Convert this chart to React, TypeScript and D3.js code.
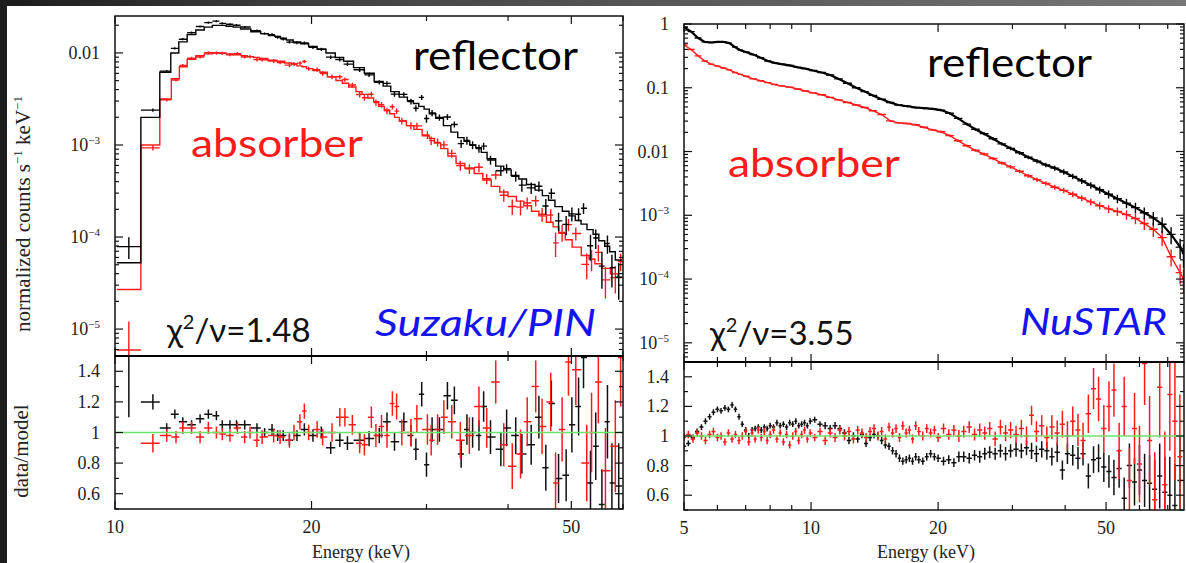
import React from "react";
import * as d3 from "d3";

// ---------------- Suzaku / PIN (left) ----------------
const pinBlackE = [
  10.5, 11.43, 12.0, 12.35, 12.7, 13.1, 13.5, 13.9, 14.3, 14.6,
  15.0, 15.35, 15.8, 16.5, 16.95, 17.4, 17.75, 18.1, 18.5, 19.0,
  19.5, 20.1, 20.7, 21.4, 22.1, 22.7, 23.7, 24.5, 25.4, 26.1,
  26.8, 27.7, 28.4, 28.9, 29.5, 30.0, 30.6, 31.4, 32.3, 33.1,
  33.9, 34.6, 35.3, 36.1, 36.7, 37.6, 39.0, 39.8, 41.1, 42.0,
  43.4, 44.6, 45.7, 46.6, 47.8, 49.1, 50.1, 51.3, 52.2, 53.5,
  54.5, 55.7, 56.8, 57.7, 59.1,
];
const pinBlackModelLog = [
  -4.28, -2.70, -2.21, -2.00, -1.88, -1.80, -1.75, -1.72, -1.70, -1.70,
  -1.71, -1.72, -1.74, -1.77, -1.79, -1.81, -1.82, -1.84, -1.86, -1.88,
  -1.90, -1.93, -1.96, -2.00, -2.05, -2.09, -2.16, -2.22, -2.31, -2.36,
  -2.42, -2.48, -2.52, -2.55, -2.58, -2.61, -2.66, -2.71, -2.79, -2.86,
  -2.92, -2.96, -3.00, -3.03, -3.08, -3.15, -3.23, -3.27, -3.33, -3.37,
  -3.43, -3.49, -3.55, -3.60, -3.67, -3.72, -3.77, -3.82, -3.86, -3.92,
  -3.97, -4.04, -4.10, -4.16, -4.25,
];
const pinBlackRatio = [
  1.5, 1.2, 1.03, 1.12, 1.07, 1.05, 1.09, 1.12, 1.11, 1.05,
  1.05, 1.05, 1.05, 1.03, 1.0, 1.02, 0.98, 0.98, 0.95, 0.98,
  1.02, 0.98, 1.0, 0.9, 0.95, 0.93, 0.95, 0.96, 0.98, 1.07,
  0.94, 1.07, 0.98, 0.89, 1.25, 0.79, 1.02, 1.02, 1.24, 1.21,
  0.86, 1.02, 1.0, 0.98, 1.17, 0.97, 0.89, 1.03, 0.98, 0.86,
  0.92, 1.1, 0.77, 1.19, 0.7, 0.72, 1.05, 1.17, 1.49, 0.67,
  0.91, 0.53, 1.07, 0.67, 0.65,
];
const pinBlackErr = [
  0.4, 0.05, 0.03, 0.03, 0.03, 0.03, 0.03, 0.03, 0.03, 0.03,
  0.03, 0.03, 0.03, 0.03, 0.03, 0.035, 0.035, 0.035, 0.035, 0.035,
  0.04, 0.04, 0.04, 0.04, 0.045, 0.045, 0.05, 0.05, 0.05, 0.06,
  0.06, 0.06, 0.07, 0.07, 0.08, 0.08, 0.08, 0.08, 0.09, 0.09,
  0.09, 0.1, 0.1, 0.1, 0.1, 0.11, 0.11, 0.12, 0.12, 0.13,
  0.13, 0.14, 0.15, 0.15, 0.16, 0.17, 0.18, 0.19, 0.2, 0.21,
  0.22, 0.23, 0.24, 0.26, 0.28,
];
const pinRedE = [
  10.5, 11.43, 12.0, 12.4, 12.7, 13.1, 13.5, 13.9, 14.3, 14.6,
  15.0, 15.4, 15.8, 16.1, 16.5, 16.8, 17.5, 17.9, 18.5, 18.8,
  19.2, 19.5, 19.8, 20.4, 20.8, 21.5, 22.1, 22.5, 23.1, 23.7,
  24.1, 24.7, 25.1, 25.6, 26.1, 26.6, 27.0, 27.5, 28.4, 29.0,
  30.1, 30.5, 31.2, 31.9, 32.8, 33.8, 34.9, 36.1, 37.1, 38.3,
  39.4, 40.6, 41.8, 42.8, 44.1, 45.1, 46.5, 47.3, 48.4, 49.5,
  50.8, 52.8, 53.7, 55.0, 56.4, 58.4, 59.5,
];
const pinRedModelLog = [
  -4.57, -3.00, -2.50, -2.28, -2.15, -2.07, -2.03, -2.01, -2.00, -2.00,
  -2.01, -2.02, -2.03, -2.04, -2.05, -2.06, -2.08, -2.09, -2.11, -2.12,
  -2.14, -2.15, -2.17, -2.19, -2.21, -2.26, -2.30, -2.33, -2.37, -2.42,
  -2.45, -2.49, -2.53, -2.58, -2.62, -2.66, -2.70, -2.74, -2.79, -2.83,
  -2.90, -2.93, -2.98, -3.04, -3.12, -3.20, -3.25, -3.31, -3.38, -3.45,
  -3.51, -3.56, -3.61, -3.66, -3.72, -3.77, -3.84, -3.89, -3.96, -4.03,
  -4.11, -4.20, -4.24, -4.29, -4.34, -4.40, -4.44,
];
const pinRedRatio = [
  0.22, 0.93, 0.98, 0.97, 1.03, 1.03, 0.97, 1.03, 1.0, 0.99,
  0.98, 1.03, 0.97, 1.0, 0.95, 0.97, 0.98, 0.97, 0.95, 1.0,
  1.07, 1.14, 1.0, 1.02, 0.97, 1.0, 1.1, 1.1, 1.05, 0.93,
  0.92, 1.1, 0.98, 1.04, 0.98, 1.19, 1.17, 1.0, 1.0, 1.09,
  1.02, 0.95, 1.02, 1.1, 1.07, 0.95, 0.98, 1.17, 1.03, 1.33,
  0.92, 0.78, 0.86, 1.07, 1.3, 1.04, 1.2, 0.67, 1.02, 1.46,
  1.41, 0.8, 1.0, 1.33, 0.75, 0.91, 1.49,
];
const pinRedErr = [
  0.23, 0.06, 0.04, 0.04, 0.04, 0.04, 0.04, 0.04, 0.04, 0.04,
  0.04, 0.04, 0.04, 0.04, 0.045, 0.045, 0.045, 0.045, 0.05, 0.05,
  0.05, 0.05, 0.05, 0.055, 0.055, 0.06, 0.06, 0.06, 0.065, 0.065,
  0.07, 0.07, 0.075, 0.075, 0.08, 0.08, 0.085, 0.085, 0.09, 0.09,
  0.1, 0.1, 0.1, 0.11, 0.11, 0.12, 0.12, 0.13, 0.13, 0.14,
  0.14, 0.15, 0.16, 0.16, 0.17, 0.18, 0.19, 0.2, 0.21, 0.22,
  0.23, 0.25, 0.26, 0.27, 0.28, 0.3, 0.32,
];

// ---------------- NuSTAR (right) ----------------
const nuE = [
  5.0, 5.2, 5.4, 5.6, 5.8, 6.0, 6.2, 6.4, 6.6, 6.8,
  7.0, 7.3, 7.6, 7.9, 8.2, 8.5, 8.9, 9.3, 9.7, 10.1,
  10.6, 11.1, 11.6, 12.2, 12.8, 13.4, 14.0, 14.7, 15.4, 16.1,
  16.9, 17.7, 18.5, 19.4, 20.3, 21.3, 22.3, 23.4, 24.5, 25.7,
  27.0, 28.3, 29.7, 31.2, 32.7, 34.3, 36.0, 37.8, 39.7, 41.7,
  43.8, 46.0, 48.3, 50.7, 53.2, 55.9, 58.7, 61.6, 64.7, 67.9,
  71.3, 74.9, 76.3,
];
const nuBlackLog = [
  -0.05, -0.12, -0.22, -0.28, -0.29, -0.28, -0.28, -0.3, -0.36, -0.41,
  -0.44, -0.48, -0.53, -0.58, -0.61, -0.63, -0.65, -0.68, -0.7, -0.73,
  -0.76, -0.8, -0.86, -0.93, -1.0, -1.06, -1.12, -1.18, -1.23, -1.27,
  -1.29, -1.31, -1.32, -1.33, -1.35, -1.4, -1.48, -1.57, -1.65, -1.72,
  -1.8, -1.88, -1.95, -2.02, -2.09, -2.15, -2.21, -2.26, -2.32, -2.39,
  -2.46, -2.53, -2.6, -2.67, -2.74, -2.81, -2.88, -2.96, -3.04, -3.14,
  -3.3, -3.5, -3.6,
];
const nuRedLog = [
  -0.33, -0.4, -0.5, -0.58, -0.63, -0.66, -0.69, -0.72, -0.76, -0.79,
  -0.82, -0.86, -0.89, -0.92, -0.95, -0.97, -0.99, -1.02, -1.05, -1.08,
  -1.11, -1.15, -1.19, -1.23, -1.27, -1.31, -1.36, -1.42, -1.52, -1.55,
  -1.56, -1.58, -1.62, -1.66, -1.69, -1.75, -1.83, -1.91, -1.98, -2.04,
  -2.11, -2.18, -2.24, -2.31, -2.38, -2.44, -2.5, -2.56, -2.61, -2.67,
  -2.73, -2.79, -2.85, -2.9, -2.94, -2.99, -3.05, -3.13, -3.22, -3.35,
  -3.65, -3.9, -4.0,
];
const nuCountsErr = [
  0.02, 0.02, 0.02, 0.02, 0.02, 0.02, 0.02, 0.02, 0.02, 0.02,
  0.02, 0.02, 0.02, 0.02, 0.02, 0.02, 0.02, 0.02, 0.025, 0.025,
  0.025, 0.025, 0.025, 0.03, 0.03, 0.03, 0.03, 0.03, 0.035, 0.035,
  0.035, 0.04, 0.04, 0.04, 0.045, 0.045, 0.05, 0.05, 0.05, 0.055,
  0.06, 0.06, 0.065, 0.07, 0.07, 0.08, 0.08, 0.09, 0.1, 0.1,
  0.11, 0.12, 0.13, 0.14, 0.15, 0.17, 0.19, 0.21, 0.24, 0.27,
  0.3, 0.35, 0.4,
];
const nuRatioE = [
  5.0, 5.12, 5.25, 5.37, 5.5, 5.62, 5.75, 5.87, 6.0, 6.12,
  6.25, 6.37, 6.5, 6.62, 6.75, 6.87, 7.0, 7.12, 7.25, 7.37,
  7.5, 7.62, 7.75, 7.87, 8.0, 8.15, 8.3, 8.45, 8.6, 8.75,
  8.9, 9.05, 9.2, 9.35, 9.5, 9.65, 9.8, 9.95, 10.2, 10.5,
  10.8, 11.1, 11.4, 11.7, 12.0, 12.3, 12.6, 12.9, 13.2, 13.5,
  13.8, 14.1, 14.4, 14.7, 15.0, 15.3, 15.6, 15.9, 16.2, 16.5,
  16.8, 17.1, 17.4, 17.7, 18.0, 18.4, 18.8, 19.2, 19.6, 20.0,
  20.6, 21.2, 21.8, 22.4, 23.0, 23.7, 24.4, 25.1, 25.8, 26.5,
  27.3, 28.1, 28.9, 29.7, 30.6, 31.5, 32.4, 33.3, 34.2, 35.2,
  36.2, 37.2, 38.3, 39.4, 40.5, 41.7, 42.9, 44.1, 45.4, 46.7,
  48.0, 49.4, 50.8, 52.2, 53.7, 55.2, 56.8, 58.4, 60.0, 61.7,
  63.4, 65.2, 67.0, 68.9, 70.8, 72.8, 74.8,
];
const nuBlackRatio = [
  0.93, 0.95, 0.99, 1.03, 1.06, 1.1, 1.13, 1.16, 1.18, 1.17,
  1.19, 1.18, 1.21, 1.18, 1.13, 1.08, 1.04, 1.0, 1.04, 1.05,
  1.06, 1.04, 1.06, 1.05, 1.07, 1.06, 1.09, 1.07, 1.08, 1.06,
  1.09, 1.08, 1.1, 1.07, 1.08, 1.09, 1.07, 1.1, 1.11, 1.08,
  1.07, 1.05, 1.07, 1.05, 1.02, 0.97, 1.0, 0.98, 1.01, 0.95,
  0.99, 1.01, 1.0, 0.97, 0.94, 0.93, 0.9, 0.88, 0.85, 0.83,
  0.84, 0.85, 0.83, 0.86, 0.84, 0.83, 0.86, 0.88, 0.86, 0.85,
  0.83, 0.84, 0.82, 0.86, 0.86, 0.85, 0.87, 0.86, 0.88, 0.89,
  0.88, 0.9, 0.88, 0.9, 0.91, 0.9, 0.92, 0.9, 0.88, 0.91,
  0.9, 0.86, 0.89, 0.77, 0.88, 0.87, 0.85, 0.88, 0.73, 0.84,
  0.85, 0.79, 0.76, 0.72, 0.78, 0.58, 0.8, 0.69, 0.77, 0.7,
  0.68, 0.64, 0.73, 0.62, 0.6, 0.53, 0.7,
];
const nuRedRatio = [
  0.99, 1.01, 0.98, 1.02, 1.0, 0.97, 1.01, 1.03, 0.99, 1.0,
  0.96, 1.02, 0.98, 1.01, 0.97, 1.0, 1.03, 0.96, 1.02, 0.98,
  1.04, 0.99, 1.03, 0.97, 1.01, 1.04, 0.98, 1.02, 0.96, 1.01,
  0.94, 1.0, 1.03, 0.97, 1.01, 1.04, 0.98, 1.02, 0.99, 1.03,
  0.97, 1.02, 0.99, 1.04, 1.0, 1.03, 0.98, 1.04, 1.02, 0.99,
  1.03, 1.05, 1.0, 1.03, 0.98, 1.06, 1.02, 1.05, 0.99, 1.07,
  1.02, 1.04, 0.98, 1.07, 1.03, 1.0, 1.05, 1.02, 1.04, 0.99,
  1.05, 1.01, 1.04, 1.0, 1.03, 1.06, 1.01, 1.04, 1.02, 1.05,
  0.98, 1.06, 1.02, 1.04, 1.01, 1.05, 1.0, 1.14, 1.03, 1.07,
  0.99, 1.06, 1.02, 1.08, 1.0, 1.1, 1.04, 0.97, 1.15, 1.32,
  1.25, 1.05, 1.2, 1.31, 0.9, 1.2, 0.7, 1.05, 0.81, 1.49,
  0.97, 0.57, 1.33, 0.67, 1.28, 1.1, 0.86,
];
const nuBlackErr = [
  0.02, 0.02, 0.02, 0.02, 0.02, 0.02, 0.02, 0.02, 0.02, 0.02,
  0.02, 0.02, 0.02, 0.02, 0.02, 0.02, 0.02, 0.02, 0.02, 0.02,
  0.02, 0.02, 0.02, 0.02, 0.02, 0.02, 0.02, 0.02, 0.02, 0.02,
  0.02, 0.02, 0.02, 0.02, 0.02, 0.02, 0.02, 0.02, 0.02, 0.02,
  0.025, 0.025, 0.025, 0.025, 0.025, 0.025, 0.025, 0.025, 0.025, 0.025,
  0.025, 0.025, 0.025, 0.025, 0.025, 0.025, 0.025, 0.025, 0.025, 0.025,
  0.025, 0.025, 0.025, 0.025, 0.025, 0.025, 0.025, 0.025, 0.025, 0.025,
  0.03, 0.03, 0.03, 0.035, 0.035, 0.035, 0.035, 0.04, 0.04, 0.04,
  0.04, 0.045, 0.045, 0.045, 0.05, 0.05, 0.05, 0.055, 0.055, 0.055,
  0.06, 0.06, 0.065, 0.065, 0.07, 0.07, 0.075, 0.08, 0.085, 0.09,
  0.095, 0.1, 0.11, 0.12, 0.13, 0.14, 0.15, 0.16, 0.17, 0.18,
  0.19, 0.2, 0.22, 0.24, 0.26, 0.28, 0.3,
];
const nuRedErr = [
  0.025, 0.025, 0.025, 0.025, 0.025, 0.025, 0.025, 0.025, 0.025, 0.025,
  0.025, 0.025, 0.025, 0.025, 0.025, 0.025, 0.025, 0.025, 0.025, 0.025,
  0.025, 0.025, 0.025, 0.025, 0.025, 0.025, 0.025, 0.025, 0.025, 0.025,
  0.025, 0.025, 0.025, 0.025, 0.025, 0.025, 0.025, 0.025, 0.025, 0.025,
  0.03, 0.03, 0.03, 0.03, 0.03, 0.03, 0.03, 0.03, 0.03, 0.03,
  0.03, 0.03, 0.03, 0.03, 0.03, 0.03, 0.03, 0.03, 0.03, 0.03,
  0.03, 0.03, 0.03, 0.03, 0.03, 0.03, 0.03, 0.03, 0.03, 0.03,
  0.035, 0.035, 0.035, 0.04, 0.04, 0.04, 0.04, 0.045, 0.045, 0.045,
  0.05, 0.05, 0.055, 0.055, 0.06, 0.06, 0.065, 0.065, 0.07, 0.07,
  0.075, 0.08, 0.085, 0.09, 0.1, 0.1, 0.11, 0.12, 0.13, 0.14,
  0.15, 0.16, 0.17, 0.18, 0.19, 0.2, 0.22, 0.24, 0.26, 0.28,
  0.3, 0.32, 0.34, 0.36, 0.38, 0.4, 0.42,
];

// ---------------- ticks ----------------
const pinXMajor = [10, 20, 50];
const pinXMinor = [30, 40, 60];
const nuXMajor = [5, 10, 20, 50];
const nuXMinor = [6, 7, 8, 9, 30, 40, 60, 70];
const ratioMajor = [0.6, 0.8, 1, 1.2, 1.4];
const ratioMinor = [0.5, 0.7, 0.9, 1.1, 1.3, 1.5];
const pinDecades = [-5, -4, -3, -2];
const nuDecades = [-5, -4, -3, -2, -1, 0];

const W = 1186;
const H = 563;
const SERIF = "'Liberation Serif', 'DejaVu Serif', serif";
const SANS = "Lato, 'Open Sans', 'Noto Sans', sans-serif";
const RED = "#ff1a1a";
const BLUE = "#1414f0";
const GREEN = "#6be36b";
const TICK_FS = 18;

type Box = { x0: number; x1: number; yTop: number; yDiv: number; yBot: number };
type Sc = (v: number) => number;

function binEdges(c: number[]): [number, number][] {
  const n = c.length;
  const m = c.slice(0, -1).map((v, i) => Math.sqrt(v * c[i + 1]));
  return c.map((v, i) => [
    i > 0 ? m[i - 1] : (v * v) / m[0],
    i < n - 1 ? m[i] : (v * v) / m[n - 2],
  ]);
}

function stepPath(E: number[], vals: number[], x: Sc, y: Sc) {
  const ed = binEdges(E);
  let d = "";
  ed.forEach(([lo, hi], i) => {
    const yy = y(vals[i]);
    d += (i === 0 ? `M${x(lo)},${yy}` : `V${yy}`) + `H${x(hi)}`;
  });
  return d;
}

function crossPath(E: number[], val: number[], lo: number[], hi: number[], x: Sc, y: Sc) {
  const ed = binEdges(E);
  return E.map((e, i) => {
    const xc = x(e);
    const yc = y(val[i]);
    const yl = Math.min(y(Math.max(lo[i], 1e-9)), 3000);
    const yh = y(hi[i]);
    return `M${x(ed[i][0])},${yc}H${x(ed[i][1])}M${xc},${yl}V${yh}`;
  }).join("");
}

function logLabel(d: number, x: number, y: number, key: string) {
  if (d >= -2) {
    const txt = d === 0 ? "1" : d === -1 ? "0.1" : "0.01";
    return (
      <text key={key} x={x} y={y} textAnchor="end" fontSize={TICK_FS} fontFamily={SERIF} fill="#222">
        {txt}
      </text>
    );
  }
  return (
    <text key={key} x={x} y={y} textAnchor="end" fontSize={TICK_FS} fontFamily={SERIF} fill="#222">
      10
      <tspan dy={-7} fontSize={11}>{`\u2212${-d}`}</tspan>
    </text>
  );
}

function Axes(props: {
  b: Box;
  x: Sc;
  yU: d3.ScaleLogarithmic<number, number>;
  yR: Sc;
  decades: number[];
  xMajor: number[];
  xMinor: number[];
  id: string;
}) {
  const { b, x, yU, yR, decades, xMajor, xMinor, id } = props;
  const els: React.ReactNode[] = [];
  const [dmin, dmax] = yU.domain();
  const sw = 1.2;
  for (let d = Math.floor(Math.log10(dmin)); d <= Math.ceil(Math.log10(dmax)); d++) {
    for (let k = 1; k <= 9; k++) {
      const v = k * Math.pow(10, d);
      if (v < dmin || v > dmax) continue;
      const yy = yU(v);
      const len = k === 1 ? 8 : 4;
      els.push(<line key={`${id}yu${d}_${k}`} x1={b.x0} x2={b.x0 + len} y1={yy} y2={yy} stroke="#111" strokeWidth={sw} />);
      els.push(<line key={`${id}yur${d}_${k}`} x1={b.x1} x2={b.x1 - len} y1={yy} y2={yy} stroke="#111" strokeWidth={sw} />);
    }
  }
  decades.forEach((d) => els.push(logLabel(d, b.x0 - 15, yU(Math.pow(10, d)) + 6, `${id}lab${d}`)));
  [...ratioMajor, ...ratioMinor].forEach((v, i) => {
    const yy = yR(v);
    const len = ratioMajor.includes(v) ? 8 : 4;
    els.push(<line key={`${id}yr${i}`} x1={b.x0} x2={b.x0 + len} y1={yy} y2={yy} stroke="#111" strokeWidth={sw} />);
    els.push(<line key={`${id}yrr${i}`} x1={b.x1} x2={b.x1 - len} y1={yy} y2={yy} stroke="#111" strokeWidth={sw} />);
  });
  ratioMajor.forEach((v) =>
    els.push(
      <text key={`${id}rl${v}`} x={b.x0 - 15} y={yR(v) + 6} textAnchor="end" fontSize={TICK_FS} fontFamily={SERIF} fill="#222">
        {String(v)}
      </text>
    )
  );
  [...xMajor, ...xMinor].forEach((v, i) => {
    const xx = x(v);
    const len = xMajor.includes(v) ? 8 : 5;
    [
      [b.yTop, 1],
      [b.yDiv, -1],
      [b.yDiv, 1],
      [b.yBot, -1],
    ].forEach(([yy, dir], j) =>
      els.push(<line key={`${id}xt${i}_${j}`} x1={xx} x2={xx} y1={yy} y2={yy + dir * len} stroke="#111" strokeWidth={sw} />)
    );
  });
  xMajor.forEach((v) =>
    els.push(
      <text key={`${id}xl${v}`} x={x(v)} y={b.yBot + 24} textAnchor="middle" fontSize={TICK_FS} fontFamily={SERIF} fill="#222">
        {String(v)}
      </text>
    )
  );
  els.push(<rect key={`${id}fu`} x={b.x0} y={b.yTop} width={b.x1 - b.x0} height={b.yDiv - b.yTop} fill="none" stroke="#111" strokeWidth={1.5} />);
  els.push(<rect key={`${id}fl`} x={b.x0} y={b.yDiv} width={b.x1 - b.x0} height={b.yBot - b.yDiv} fill="none" stroke="#111" strokeWidth={1.5} />);
  els.push(<line key={`${id}div`} x1={b.x0} x2={b.x1} y1={b.yDiv} y2={b.yDiv} stroke="#000" strokeWidth={2.2} />);
  els.push(
    <text key={`${id}et`} x={(b.x0 + b.x1) / 2 - 8} y={558} textAnchor="middle" fontSize={18} fontFamily={SERIF} fill="#222">
      Energy (keV)
    </text>
  );
  return <g>{els}</g>;
}

export default function App() {
  const L: Box = { x0: 115, x1: 623, yTop: 16, yDiv: 356, yBot: 509 };
  const xL = d3.scaleLog().domain([10, 60]).range([L.x0, L.x1]);
  const yLU = d3.scaleLog().domain([5.1e-6, 0.0252]).range([L.yDiv, L.yTop]);
  const yLR = d3.scaleLinear().domain([0.5, 1.5]).range([L.yBot, L.yDiv]);

  const R: Box = { x0: 684, x1: 1184, yTop: 24, yDiv: 362, yBot: 510 };
  const xR = d3.scaleLog().domain([5, 76.5]).range([R.x0, R.x1]);
  const yRU = d3.scaleLog().domain([5e-6, 1]).range([R.yDiv, R.yTop]);
  const yRR = d3.scaleLinear().domain([0.5, 1.5]).range([R.yBot, R.yDiv]);

  const pin = (E: number[], mLog: number[], r: number[], e: number[]) => {
    const m = mLog.map((v) => Math.pow(10, v));
    return {
      step: stepPath(E, m, xL, yLU),
      up: crossPath(E, m.map((v, i) => v * r[i]), m.map((v, i) => v * (r[i] - e[i])), m.map((v, i) => v * (r[i] + e[i])), xL, yLU),
      low: crossPath(E, r, r.map((v, i) => v - e[i]), r.map((v, i) => v + e[i]), xL, yLR),
    };
  };
  const pb = pin(pinBlackE, pinBlackModelLog, pinBlackRatio, pinBlackErr);
  const pr = pin(pinRedE, pinRedModelLog, pinRedRatio, pinRedErr);

  const nu = (lg: number[]) => {
    const v = lg.map((q) => Math.pow(10, q));
    const line = d3
      .line<number>()
      .x((_, i) => xR(nuE[i]))
      .y((q) => yRU(q))(v) as string;
    return {
      line,
      up: crossPath(nuE, v, v.map((q, i) => q * (1 - nuCountsErr[i])), v.map((q, i) => q * (1 + nuCountsErr[i])), xR, yRU),
    };
  };
  const nb = nu(nuBlackLog);
  const nr = nu(nuRedLog);
  const nbLow = crossPath(nuRatioE, nuBlackRatio, nuBlackRatio.map((v, i) => v - nuBlackErr[i]), nuBlackRatio.map((v, i) => v + nuBlackErr[i]), xR, yRR);
  const nrLow = crossPath(nuRatioE, nuRedRatio, nuRedRatio.map((v, i) => v - nuRedErr[i]), nuRedRatio.map((v, i) => v + nuRedErr[i]), xR, yRR);

  return (
    <svg width={W} height={H} style={{ position: "absolute", left: 0, top: 0 }} xmlns="http://www.w3.org/2000/svg">
      <defs>
        <linearGradient id="bg" x1="0" x2="1" y1="0" y2="0">
          <stop offset="0" stopColor="#1c1c1c" />
          <stop offset="0.3" stopColor="#444" />
          <stop offset="1" stopColor="#777" />
        </linearGradient>
        <clipPath id="cLU"><rect x={L.x0} y={L.yTop} width={L.x1 - L.x0} height={L.yDiv - L.yTop} /></clipPath>
        <clipPath id="cLR"><rect x={L.x0} y={L.yDiv} width={L.x1 - L.x0} height={L.yBot - L.yDiv} /></clipPath>
        <clipPath id="cRU"><rect x={R.x0} y={R.yTop} width={R.x1 - R.x0} height={R.yDiv - R.yTop} /></clipPath>
        <clipPath id="cRR"><rect x={R.x0} y={R.yDiv} width={R.x1 - R.x0} height={R.yBot - R.yDiv} /></clipPath>
      </defs>
      <rect x={0} y={0} width={W} height={H} fill="url(#bg)" />
      <rect x={7} y={6} width={W - 7} height={H - 6} fill="#fff" />

      {/* ---- left: Suzaku/PIN ---- */}
      <g clipPath="url(#cLU)" fill="none" strokeWidth={1.4}>
        <path d={pr.step} stroke={RED} />
        <path d={pr.up} stroke={RED} />
        <path d={pb.step} stroke="#000" />
        <path d={pb.up} stroke="#000" />
      </g>
      <g clipPath="url(#cLR)" fill="none" strokeWidth={1.5}>
        <path d={pb.low} stroke="#111" />
        <path d={pr.low} stroke={RED} />
        <line x1={L.x0} x2={L.x1} y1={yLR(1)} y2={yLR(1)} stroke={GREEN} strokeWidth={1.6} />
      </g>
      <Axes b={L} x={xL} yU={yLU} yR={yLR} decades={pinDecades} xMajor={pinXMajor} xMinor={pinXMinor} id="L" />

      {/* ---- right: NuSTAR ---- */}
      <g clipPath="url(#cRU)" fill="none">
        <path d={nr.up} stroke={RED} strokeWidth={1.4} />
        <path d={nr.line} stroke={RED} strokeWidth={1.4} />
        <path d={nb.up} stroke="#000" strokeWidth={1.4} />
        <path d={nb.line} stroke="#000" strokeWidth={2.2} />
      </g>
      <g clipPath="url(#cRR)" fill="none" strokeWidth={1.5}>
        <path d={nbLow} stroke="#111" />
        <path d={nrLow} stroke={RED} />
        <line x1={R.x0} x2={R.x1} y1={yRR(1)} y2={yRR(1)} stroke={GREEN} strokeWidth={1.4} />
      </g>
      <Axes b={R} x={xR} yU={yRU} yR={yRR} decades={nuDecades} xMajor={nuXMajor} xMinor={nuXMinor} id="R" />

      {/* ---- axis titles ---- */}
      <text transform="translate(30,214) rotate(-90)" textAnchor="middle" fontSize={21} fontFamily={SERIF} fill="#222">
        normalized counts s<tspan dy={-8} fontSize={13}>{"\u22121"}</tspan>
        <tspan dy={8}> keV</tspan>
        <tspan dy={-8} fontSize={13}>{"\u22121"}</tspan>
      </text>
      <text transform="translate(28,451) rotate(-90)" textAnchor="middle" fontSize={21} fontFamily={SERIF} fill="#222">
        data/model
      </text>

      {/* ---- annotations ---- */}
      <g fontFamily={SANS}>
        <text x={413} y={70} fontSize={40} textLength={165} lengthAdjust="spacingAndGlyphs" fill="#000">reflector</text>
        <text x={191} y={157} fontSize={39} textLength={172} lengthAdjust="spacingAndGlyphs" fill={RED}>absorber</text>
        <text x={167} y={342} fontSize={33} fill="#111">
          χ<tspan dy={-13} fontSize={20}>2</tspan>
          <tspan dy={13}>/ν=1.48</tspan>
        </text>
        <text x={375} y={336} fontSize={36} fontStyle="italic" textLength={221} lengthAdjust="spacingAndGlyphs" fill={BLUE}>Suzaku/PIN</text>

        <text x={927} y={77} fontSize={40} textLength={165} lengthAdjust="spacingAndGlyphs" fill="#000">reflector</text>
        <text x={728} y={177} fontSize={39} textLength={172} lengthAdjust="spacingAndGlyphs" fill={RED}>absorber</text>
        <text x={710} y={345} fontSize={33} fill="#111">
          χ<tspan dy={-13} fontSize={20}>2</tspan>
          <tspan dy={13}>/ν=3.55</tspan>
        </text>
        <text x={1020} y={335} fontSize={36} fontStyle="italic" textLength={147} lengthAdjust="spacingAndGlyphs" fill={BLUE}>NuSTAR</text>
      </g>
    </svg>
  );
}
